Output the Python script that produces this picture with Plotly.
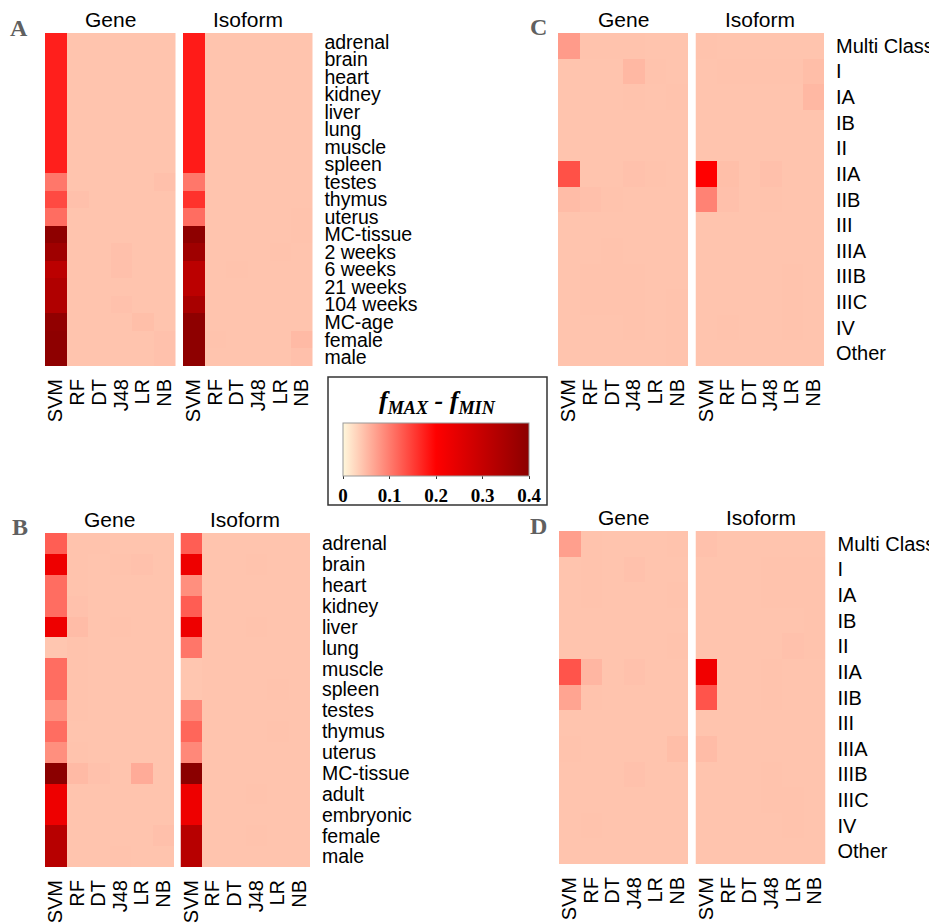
import plotly.graph_objects as go

W, H = 937, 923
OFF = 8                       # browser body margin
FW, FH = W - OFF, H - OFF

methods = ["SVM", "RF", "DT", "J48", "LR", "NB"]

rows_A = ["adrenal", "brain", "heart", "kidney", "liver", "lung", "muscle", "spleen",
          "testes", "thymus", "uterus", "MC-tissue", "2 weeks", "6 weeks", "21 weeks",
          "104 weeks", "MC-age", "female", "male"]
rows_B = ["adrenal", "brain", "heart", "kidney", "liver", "lung", "muscle", "spleen",
          "testes", "thymus", "uterus", "MC-tissue", "adult", "embryonic", "female", "male"]
rows_CD = ["Multi Class", "I", "IA", "IB", "II", "IIA", "IIB", "III", "IIIA", "IIIB",
           "IIIC", "IV", "Other"]

# values: f_MAX - f_MIN, rows x methods (SVM, RF, DT, J48, LR, NB)
A_gene = [
    [0.175, 0.042, 0.042, 0.042, 0.042, 0.042],
    [0.175, 0.042, 0.042, 0.042, 0.042, 0.042],
    [0.175, 0.042, 0.042, 0.042, 0.042, 0.042],
    [0.175, 0.042, 0.042, 0.042, 0.042, 0.042],
    [0.175, 0.042, 0.042, 0.042, 0.042, 0.042],
    [0.175, 0.042, 0.042, 0.042, 0.042, 0.042],
    [0.175, 0.042, 0.042, 0.042, 0.042, 0.042],
    [0.175, 0.042, 0.042, 0.042, 0.042, 0.042],
    [0.104, 0.042, 0.042, 0.042, 0.042, 0.045],
    [0.140, 0.045, 0.042, 0.042, 0.042, 0.042],
    [0.112, 0.042, 0.042, 0.042, 0.042, 0.042],
    [0.395, 0.042, 0.042, 0.042, 0.042, 0.042],
    [0.365, 0.042, 0.042, 0.045, 0.042, 0.042],
    [0.318, 0.042, 0.042, 0.045, 0.042, 0.042],
    [0.336, 0.042, 0.042, 0.042, 0.042, 0.042],
    [0.336, 0.042, 0.042, 0.044, 0.042, 0.042],
    [0.390, 0.042, 0.042, 0.042, 0.046, 0.042],
    [0.395, 0.042, 0.042, 0.042, 0.042, 0.044],
    [0.395, 0.042, 0.042, 0.042, 0.042, 0.044],
]
A_iso = [
    [0.178, 0.042, 0.042, 0.042, 0.042, 0.042],
    [0.178, 0.042, 0.042, 0.042, 0.042, 0.042],
    [0.178, 0.042, 0.042, 0.042, 0.042, 0.042],
    [0.178, 0.042, 0.042, 0.042, 0.042, 0.042],
    [0.178, 0.042, 0.042, 0.042, 0.042, 0.042],
    [0.178, 0.042, 0.042, 0.042, 0.042, 0.042],
    [0.178, 0.042, 0.042, 0.042, 0.042, 0.042],
    [0.178, 0.042, 0.042, 0.042, 0.042, 0.042],
    [0.104, 0.042, 0.042, 0.042, 0.042, 0.042],
    [0.160, 0.042, 0.042, 0.042, 0.042, 0.042],
    [0.112, 0.042, 0.042, 0.042, 0.042, 0.043],
    [0.395, 0.042, 0.042, 0.042, 0.042, 0.043],
    [0.365, 0.042, 0.042, 0.042, 0.043, 0.042],
    [0.318, 0.042, 0.043, 0.042, 0.042, 0.042],
    [0.318, 0.042, 0.042, 0.042, 0.042, 0.042],
    [0.350, 0.042, 0.042, 0.042, 0.042, 0.042],
    [0.395, 0.042, 0.042, 0.042, 0.042, 0.042],
    [0.395, 0.043, 0.042, 0.042, 0.042, 0.050],
    [0.395, 0.042, 0.042, 0.042, 0.042, 0.045],
]
B_gene = [
    [0.124, 0.043, 0.043, 0.042, 0.042, 0.042],
    [0.229, 0.043, 0.042, 0.043, 0.044, 0.042],
    [0.112, 0.043, 0.042, 0.042, 0.042, 0.042],
    [0.112, 0.044, 0.042, 0.042, 0.042, 0.042],
    [0.229, 0.048, 0.042, 0.043, 0.042, 0.042],
    [0.040, 0.043, 0.042, 0.042, 0.042, 0.042],
    [0.112, 0.043, 0.042, 0.042, 0.042, 0.042],
    [0.112, 0.043, 0.042, 0.042, 0.042, 0.042],
    [0.085, 0.043, 0.042, 0.042, 0.042, 0.042],
    [0.112, 0.042, 0.042, 0.042, 0.042, 0.042],
    [0.085, 0.043, 0.042, 0.042, 0.042, 0.042],
    [0.400, 0.050, 0.044, 0.042, 0.062, 0.042],
    [0.229, 0.042, 0.042, 0.042, 0.042, 0.042],
    [0.229, 0.042, 0.042, 0.042, 0.042, 0.042],
    [0.325, 0.042, 0.042, 0.042, 0.042, 0.045],
    [0.325, 0.042, 0.042, 0.043, 0.042, 0.042],
]
B_iso = [
    [0.124, 0.042, 0.042, 0.042, 0.042, 0.042],
    [0.229, 0.042, 0.042, 0.043, 0.042, 0.042],
    [0.085, 0.042, 0.042, 0.042, 0.042, 0.042],
    [0.125, 0.042, 0.042, 0.042, 0.042, 0.042],
    [0.229, 0.042, 0.042, 0.043, 0.042, 0.042],
    [0.105, 0.042, 0.042, 0.042, 0.042, 0.042],
    [0.040, 0.042, 0.042, 0.042, 0.042, 0.042],
    [0.040, 0.042, 0.042, 0.042, 0.043, 0.042],
    [0.090, 0.042, 0.042, 0.042, 0.042, 0.042],
    [0.118, 0.042, 0.042, 0.042, 0.043, 0.042],
    [0.090, 0.042, 0.042, 0.042, 0.042, 0.042],
    [0.400, 0.042, 0.042, 0.042, 0.042, 0.042],
    [0.229, 0.042, 0.042, 0.043, 0.042, 0.042],
    [0.229, 0.042, 0.042, 0.042, 0.042, 0.042],
    [0.325, 0.042, 0.042, 0.043, 0.042, 0.042],
    [0.325, 0.042, 0.042, 0.042, 0.042, 0.042],
]
C_gene = [
    [0.075, 0.043, 0.043, 0.043, 0.042, 0.042],
    [0.042, 0.042, 0.042, 0.052, 0.043, 0.042],
    [0.042, 0.042, 0.042, 0.043, 0.042, 0.043],
    [0.042, 0.042, 0.042, 0.042, 0.042, 0.042],
    [0.042, 0.042, 0.042, 0.042, 0.042, 0.042],
    [0.135, 0.042, 0.042, 0.044, 0.043, 0.042],
    [0.048, 0.045, 0.043, 0.042, 0.042, 0.042],
    [0.042, 0.042, 0.042, 0.042, 0.042, 0.042],
    [0.042, 0.042, 0.043, 0.042, 0.042, 0.042],
    [0.042, 0.043, 0.043, 0.043, 0.042, 0.042],
    [0.042, 0.043, 0.043, 0.043, 0.042, 0.043],
    [0.042, 0.042, 0.042, 0.043, 0.042, 0.043],
    [0.042, 0.042, 0.042, 0.042, 0.042, 0.043],
]
C_iso = [
    [0.043, 0.042, 0.042, 0.042, 0.042, 0.042],
    [0.042, 0.043, 0.043, 0.043, 0.043, 0.047],
    [0.042, 0.042, 0.042, 0.042, 0.042, 0.052],
    [0.042, 0.042, 0.042, 0.042, 0.042, 0.042],
    [0.042, 0.042, 0.042, 0.042, 0.042, 0.042],
    [0.200, 0.046, 0.042, 0.045, 0.042, 0.042],
    [0.095, 0.045, 0.042, 0.043, 0.042, 0.042],
    [0.042, 0.042, 0.042, 0.042, 0.042, 0.042],
    [0.042, 0.042, 0.042, 0.042, 0.042, 0.042],
    [0.042, 0.042, 0.042, 0.042, 0.043, 0.042],
    [0.042, 0.042, 0.042, 0.042, 0.043, 0.042],
    [0.042, 0.043, 0.042, 0.042, 0.043, 0.042],
    [0.042, 0.042, 0.042, 0.042, 0.042, 0.042],
]
D_gene = [
    [0.072, 0.043, 0.042, 0.042, 0.042, 0.043],
    [0.042, 0.043, 0.042, 0.044, 0.042, 0.042],
    [0.042, 0.043, 0.042, 0.042, 0.042, 0.043],
    [0.042, 0.042, 0.042, 0.042, 0.042, 0.042],
    [0.042, 0.042, 0.042, 0.042, 0.042, 0.043],
    [0.132, 0.053, 0.042, 0.044, 0.042, 0.042],
    [0.068, 0.043, 0.042, 0.042, 0.042, 0.042],
    [0.042, 0.042, 0.042, 0.042, 0.042, 0.042],
    [0.043, 0.042, 0.042, 0.042, 0.042, 0.047],
    [0.042, 0.042, 0.042, 0.044, 0.042, 0.042],
    [0.042, 0.042, 0.042, 0.042, 0.042, 0.042],
    [0.042, 0.043, 0.042, 0.042, 0.042, 0.042],
    [0.042, 0.042, 0.042, 0.042, 0.042, 0.042],
]
D_iso = [
    [0.044, 0.042, 0.042, 0.042, 0.042, 0.042],
    [0.042, 0.042, 0.042, 0.043, 0.043, 0.043],
    [0.042, 0.042, 0.042, 0.043, 0.043, 0.043],
    [0.042, 0.042, 0.042, 0.042, 0.042, 0.043],
    [0.042, 0.042, 0.042, 0.042, 0.044, 0.043],
    [0.225, 0.042, 0.042, 0.043, 0.042, 0.042],
    [0.132, 0.042, 0.042, 0.043, 0.042, 0.042],
    [0.042, 0.042, 0.042, 0.042, 0.042, 0.042],
    [0.048, 0.042, 0.042, 0.042, 0.042, 0.042],
    [0.042, 0.042, 0.042, 0.043, 0.042, 0.042],
    [0.042, 0.042, 0.042, 0.043, 0.043, 0.042],
    [0.042, 0.042, 0.042, 0.042, 0.043, 0.042],
    [0.042, 0.042, 0.042, 0.042, 0.042, 0.042],
]

colorbar_ticks = [0, 0.1, 0.2, 0.3, 0.4]
colorbar_ticklabels = ["0", "0.1", "0.2", "0.3", "0.4"]


def px(x):
    return (x - OFF) / FW


def py(y):
    return 1 - (y - OFF) / FH


# panel geometry in page pixels: (x0, x1, y0, y1)
panels = [
    ("A_gene", A_gene, rows_A, (45, 175.5, 33, 366), False, 19.5),
    ("A_iso", A_iso, rows_A, (183, 312.5, 33, 366), True, 19.5),
    ("C_gene", C_gene, rows_CD, (558, 688, 33, 366), False, 20),
    ("C_iso", C_iso, rows_CD, (695.5, 824, 33, 366), True, 20),
    ("B_gene", B_gene, rows_B, (45, 174, 533, 867), False, 19.5),
    ("B_iso", B_iso, rows_B, (180.5, 310, 533, 867), True, 19.5),
    ("D_gene", D_gene, rows_CD, (559, 688, 531, 864), False, 20),
    ("D_iso", D_iso, rows_CD, (695.5, 825.5, 531, 864), True, 20),
]

SANS = "Liberation Sans, Arial, sans-serif"
SERIF = "Liberation Serif, Times New Roman, serif"

fig = go.Figure()
layout = {}
for i, (name, z, rows, (x0, x1, y0, y1), show_rows, rfs) in enumerate(panels):
    k = "" if i == 0 else str(i + 1)
    fig.add_trace(go.Heatmap(
        z=z, x=methods, y=rows, coloraxis="coloraxis",
        xaxis="x" + k, yaxis="y" + k, xgap=0, ygap=0,
    ))
    layout["xaxis" + k] = dict(
        domain=[px(x0), px(x1)], anchor="y" + k, tickangle=-90,
        tickmode="array", tickvals=methods, ticktext=methods,
        tickfont=dict(family=SANS, size=20, color="black"),
        ticks="outside", ticklen=4, tickcolor="rgba(0,0,0,0)",
        showgrid=False, zeroline=False, showline=False, fixedrange=True,
        automargin=False,
    )
    layout["yaxis" + k] = dict(
        domain=[py(y1), py(y0)], anchor="x" + k, autorange="reversed",
        side="right", showticklabels=show_rows,
        tickmode="array", tickvals=rows, ticktext=rows,
        tickfont=dict(family=SANS, size=rfs, color="black"),
        ticks="outside" if show_rows else "", ticklen=7, tickcolor="rgba(0,0,0,0)",
        showgrid=False, zeroline=False, showline=False, fixedrange=True,
        automargin=False,
    )

annotations = []
# Gene / Isoform titles
for (name, z, rows, (x0, x1, y0, y1), show_rows, rfs) in panels:
    label = "Isoform" if name.endswith("iso") else "Gene"
    annotations.append(dict(
        text=label, x=px((x0 + x1) / 2), y=py(y0 - 14), xref="paper", yref="paper",
        xanchor="center", yanchor="middle", showarrow=False,
        font=dict(family=SANS, size=21, color="black"),
    ))
# Panel letters
for letter, lx, ly in [("A", 19, 28), ("C", 538, 27), ("B", 20, 527), ("D", 538, 526)]:
    annotations.append(dict(
        text="<b>" + letter + "</b>", x=px(lx), y=py(ly), xref="paper", yref="paper",
        xanchor="center", yanchor="middle", showarrow=False,
        font=dict(family=SERIF, size=24, color="#606060"),
    ))
# Colorbar title
annotations.append(dict(
    text="<b><i>f<sub>MAX</sub> - f<sub>MIN</sub></i></b>",
    x=px(437), y=py(402), xref="paper", yref="paper",
    xanchor="center", yanchor="middle", showarrow=False,
    font=dict(family=SERIF, size=26, color="black"),
))

fig.update_layout(
    width=FW, height=FH, margin=dict(l=0, r=0, t=0, b=0, autoexpand=False),
    paper_bgcolor="white", plot_bgcolor="white",
    annotations=annotations,
    shapes=[dict(type="rect", xref="paper", yref="paper",
                 x0=px(328), x1=px(547), y0=py(505), y1=py(377),
                 line=dict(color="#333333", width=1.5))],
    coloraxis=dict(
        cmin=0, cmax=0.4,
        colorscale=[[0, "#FFF8DC"], [0.5, "#FF0000"], [1, "#8B0000"]],
        colorbar=dict(
            orientation="h", x=px(436), xanchor="center",
            y=py(423), yanchor="top",
            len=186, lenmode="pixels", thickness=53, thicknessmode="pixels",
            xpad=0, ypad=0,
            tickmode="array",
            tickvals=colorbar_ticks,
            ticktext=["<b>" + t + "</b>" for t in colorbar_ticklabels],
            ticks="outside", ticklen=3, tickcolor="#333333",
            tickfont=dict(family=SERIF, size=19, color="black"),
            outlinewidth=1, outlinecolor="#999999",
        ),
    ),
    **layout,
)

fig.write_html("out.html")
